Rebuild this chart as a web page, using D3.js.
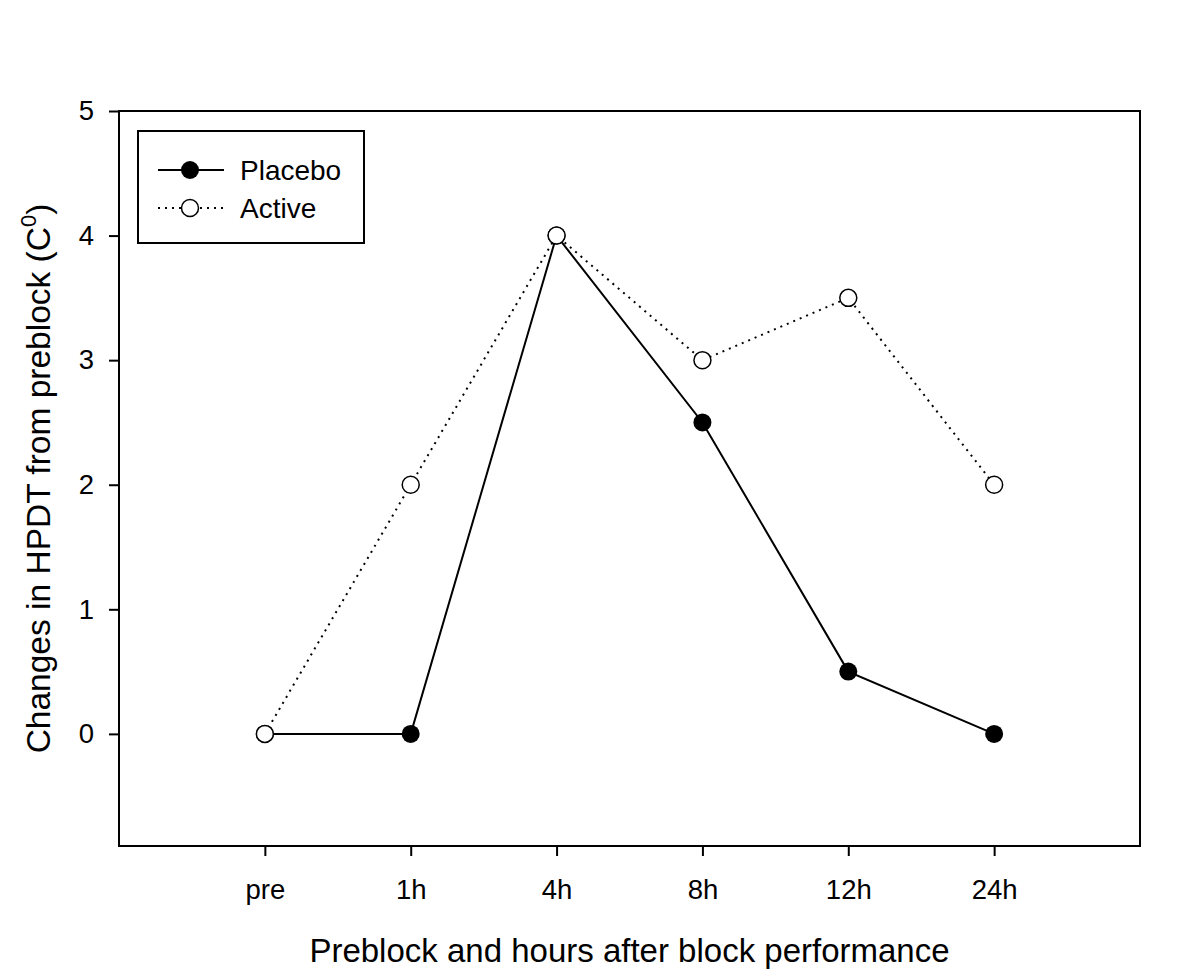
<!DOCTYPE html>
<html>
<head>
<meta charset="utf-8">
<script src="https://cdnjs.cloudflare.com/ajax/libs/d3/7.8.5/d3.min.js"></script>
<style>
  body { margin: 0; background: #fff; }
  svg { display: block; font-family: "Liberation Sans", Arial, sans-serif; }
</style>
</head>
<body>
<svg id="viz" width="1200" height="978"></svg>
<script>
(function () {
  "use strict";

  // Data
  const timepoints = ["pre", "1h", "4h", "8h", "12h", "24h"];
  const placebo = [0, 0, 4, 2.5, 0.5, 0];
  const active = [0, 2, 4, 3, 3.5, 2];
  const yTicks = [0, 1, 2, 3, 4, 5];

  // Layout
  let margin = { top: 111, left: 119, right: 60, bottom: 132 };
  let width = 1200 - margin.left - margin.right;
  let height = 978 - margin.top - margin.bottom;

  // Scales: one empty slot either side of the categories
  let x = d3.scaleLinear()
    .domain([-1, timepoints.length])
    .range([0, width]);

  let y = d3.scaleLinear()
    .domain([-0.9, 5])
    .range([height, 0]);

  let svg = d3.select("#viz");
  let g = svg.append("g")
    .attr("transform", `translate(${margin.left} ${margin.top})`);

  // Frame
  g.append("rect")
    .attr("width", width)
    .attr("height", height)
    .attr("fill", "none")
    .attr("stroke", "#000")
    .attr("stroke-width", 2);

  // Axes
  let yAxis = g.append("g")
    .call(d3.axisLeft(y).tickValues(yTicks).tickSize(10).tickPadding(15).tickFormat(d3.format("d")));
  let xAxis = g.append("g")
    .attr("transform", `translate(0,${height})`)
    .call(d3.axisBottom(x).tickValues(d3.range(timepoints.length)).tickSize(10).tickPadding(23)
      .tickFormat(i => timepoints[i]));

  [yAxis, xAxis].forEach(a => {
    a.select(".domain").remove();
    a.selectAll("line").attr("stroke", "#000").attr("stroke-width", 2);
    a.selectAll("text")
      .attr("fill", "#000")
      .style("font-family", "'Liberation Sans', Arial, sans-serif")
      .style("font-size", "27.5px");
  });

  // Axis titles
  svg.append("text")
    .attr("x", margin.left + x(2.5))
    .attr("y", 962)
    .attr("text-anchor", "middle")
    .style("font-size", "33px")
    .text("Preblock and hours after block performance");

  let yTitle = svg.append("text")
    .attr("transform", `translate(50,${margin.top + y(2.05)}) rotate(-90)`)
    .attr("text-anchor", "middle")
    .style("font-size", "33.5px");
  yTitle.append("tspan").text("Changes in HPDT from preblock (C");
  yTitle.append("tspan").attr("dy", -14).style("font-size", "22px").text("0");
  yTitle.append("tspan").attr("dy", 14).text(")");

  // Lines
  let line = d3.line().x((d, i) => x(i)).y(d => y(d));

  g.append("path")
    .datum(placebo)
    .attr("d", line)
    .attr("fill", "none")
    .attr("stroke", "#000")
    .attr("stroke-width", 2);

  g.append("path")
    .datum(active)
    .attr("d", line)
    .attr("fill", "none")
    .attr("stroke", "#000")
    .attr("stroke-width", 2)
    .attr("stroke-dasharray", "2 5");

  // Markers (placebo under, active on top)
  g.selectAll(".p")
    .data(placebo)
    .enter()
    .append("circle")
    .attr("cx", (d, i) => x(i))
    .attr("cy", d => y(d))
    .attr("r", 9)
    .attr("fill", "#000");

  g.selectAll(".a")
    .data(active)
    .enter()
    .append("circle")
    .attr("cx", (d, i) => x(i))
    .attr("cy", d => y(d))
    .attr("r", 8.5)
    .attr("fill", "#fff")
    .attr("stroke", "#000")
    .attr("stroke-width", 1.5);

  // Legend
  let legend = svg.append("g").attr("transform", "translate(138 131)");
  legend.append("rect")
    .attr("width", 226)
    .attr("height", 112)
    .attr("fill", "#fff")
    .attr("stroke", "#000")
    .attr("stroke-width", 2);

  let items = [
    { name: "Placebo", dash: null, fill: "#000", y: 39 },
    { name: "Active", dash: "2 5", fill: "#fff", y: 77 }
  ];

  let item = legend.selectAll(".item")
    .data(items)
    .enter()
    .append("g")
    .attr("transform", d => `translate(0,${d.y})`);

  item.append("line")
    .attr("x1", 20).attr("x2", 86)
    .attr("stroke", "#000")
    .attr("stroke-width", 2)
    .attr("stroke-dasharray", d => d.dash);

  item.append("circle")
    .attr("cx", 52)
    .attr("r", d => d.fill === "#000" ? 9 : 8.5)
    .attr("fill", d => d.fill)
    .attr("stroke", "#000")
    .attr("stroke-width", d => d.fill === "#000" ? 0 : 1.5);

  item.append("text")
    .attr("x", 102)
    .attr("y", 10)
    .style("font-size", "28px")
    .text(d => d.name);

})();
</script>
</body>
</html>
